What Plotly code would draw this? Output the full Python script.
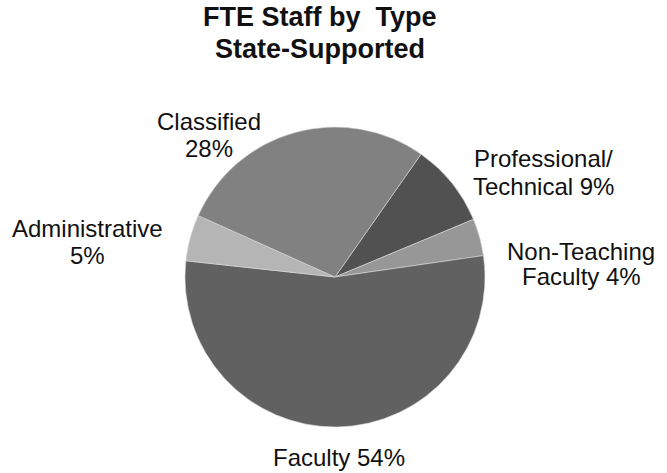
import plotly.graph_objects as go

categories = ["Professional/<br>Technical", "Non-Teaching<br>Faculty", "Faculty", "Administrative", "Classified"]
values = [9, 4, 54, 5, 28]
colors = ["#515151", "#979797", "#616161", "#b5b5b5", "#818181"]
label_fmt = ["{c} {v}%", "{c} {v}%", "{c} {v}%", "{c}<br>{v}%", "{c}<br>{v}%"]
# per-line label centers in pixels (x, y from top)
label_lines = [
    [(543, 158.5), (543, 186.5)],
    [(581, 251), (581, 276)],
    [(339, 457.5)],
    [(87.5, 229), (87.5, 255.5)],
    [(209, 121), (209, 148.5)],
]
title_lines = ["FTE Staff by \u00a0Type", "State-Supported"]
title_pos = [(320, 17.5), (320, 49)]

W, H = 667, 473
cx, cy, r = 335, 277, 150
FONT = "Liberation Sans, Arial"

fig = go.Figure(go.Pie(
    labels=categories,
    values=values,
    sort=False,
    direction="clockwise",
    rotation=35,
    textinfo="none",
    hoverinfo="label+percent",
    marker=dict(colors=colors, line=dict(color="#d8d8d8", width=0.6)),
    domain=dict(x=[(cx - r) / W, (cx + r) / W], y=[(H - cy - r) / H, (H - cy + r) / H]),
    showlegend=False,
))

annotations = []
for cat, v, fmt, lines_pos in zip(categories, values, label_fmt, label_lines):
    parts = fmt.format(c=cat, v=v).split("<br>")
    for txt, (px, py) in zip(parts, lines_pos):
        annotations.append(dict(
            text=txt, x=px / W, y=1 - py / H, xref="paper", yref="paper",
            xanchor="center", yanchor="middle", showarrow=False,
            font=dict(family=FONT, size=24, color="#111111"),
        ))

for txt, (px, py) in zip(title_lines, title_pos):
    annotations.append(dict(
        text="<b>" + txt + "</b>", x=px / W, y=1 - py / H, xref="paper", yref="paper",
        xanchor="center", yanchor="middle", showarrow=False,
        font=dict(family=FONT, size=27, color="#111111"),
    ))

fig.update_layout(
    width=W, height=H,
    margin=dict(l=0, r=0, t=0, b=0),
    paper_bgcolor="white", plot_bgcolor="white",
    annotations=annotations,
)

fig.write_html("out.html", config={"displayModeBar": False},
               post_script="document.body.style.margin='0';")
